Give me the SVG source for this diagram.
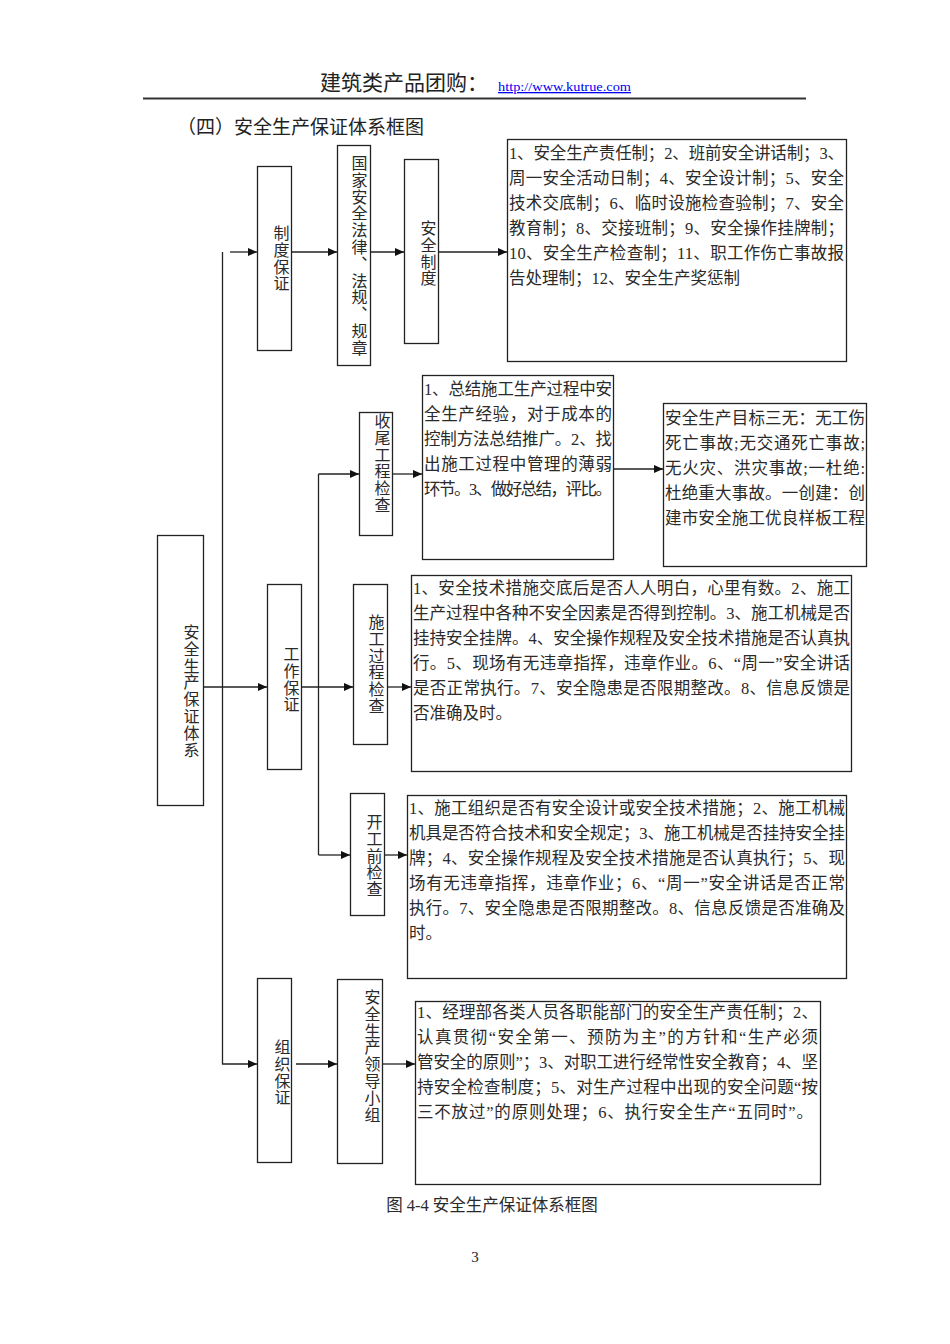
<svg xmlns="http://www.w3.org/2000/svg" width="950" height="1344" viewBox="0 0 950 1344">
<style>
.bg{fill:#fff}
.box{fill:#fff;stroke:#222;stroke-width:1.3}
.ln{fill:none;stroke:#222;stroke-width:1.3}
.t{font-family:"Liberation Serif","Noto Sans CJK SC",serif;font-size:16.5px;fill:#2a2a2a}
.v{font-family:"Liberation Serif","Noto Sans CJK SC",serif;font-size:16px;fill:#2a2a2a;writing-mode:vertical-rl;letter-spacing:0.8px}
.h{font-family:"Noto Sans CJK SC",sans-serif;fill:#222}
</style>
<defs>
<marker id="ar" markerUnits="userSpaceOnUse" markerWidth="10" markerHeight="9" refX="9" refY="4" orient="auto">
<path d="M0,0 L9,4 L0,8 z" fill="#111"/>
</marker>
</defs>
<rect class="bg" x="0" y="0" width="950" height="1344"/>

<g id="header">
<text class="h" x="320" y="90" font-size="21">建筑类产品团购：</text>
<text x="498" y="91" font-family="Liberation Serif,serif" font-size="13" fill="#0000ee" text-decoration="underline" textLength="133" lengthAdjust="spacingAndGlyphs">http://www.kutrue.com</text>
<line x1="143" y1="98.5" x2="806" y2="98.5" stroke="#333" stroke-width="1.8"/>
<text class="h" x="177" y="134" font-size="19">（四）安全生产保证体系框图</text>
</g>

<g id="connectors">
<line class="ln" x1="222.5" y1="252" x2="222.5" y2="1064.5"/>
<line class="ln" x1="230" y1="252" x2="257" y2="252" marker-end="url(#ar)"/>
<line class="ln" x1="291" y1="252" x2="337" y2="252" marker-end="url(#ar)"/>
<line class="ln" x1="371" y1="252" x2="404" y2="252" marker-end="url(#ar)"/>
<line class="ln" x1="438" y1="252" x2="507" y2="252" marker-end="url(#ar)"/>
<line class="ln" x1="203" y1="687" x2="267" y2="687" marker-end="url(#ar)"/>
<line class="ln" x1="302" y1="687" x2="353" y2="687" marker-end="url(#ar)"/>
<line class="ln" x1="318.5" y1="474" x2="318.5" y2="855"/>
<line class="ln" x1="318.5" y1="474" x2="359" y2="474" marker-end="url(#ar)"/>
<line class="ln" x1="393" y1="474" x2="422" y2="474" marker-end="url(#ar)"/>
<line class="ln" x1="614" y1="469" x2="663" y2="469" marker-end="url(#ar)"/>
<line class="ln" x1="387" y1="687" x2="411" y2="687" marker-end="url(#ar)"/>
<line class="ln" x1="318.5" y1="855" x2="350" y2="855" marker-end="url(#ar)"/>
<line class="ln" x1="385" y1="855" x2="407" y2="855" marker-end="url(#ar)"/>
<line class="ln" x1="222.5" y1="1064" x2="257" y2="1064" marker-end="url(#ar)"/>
<line class="ln" x1="296" y1="1064" x2="337" y2="1064" marker-end="url(#ar)"/>
<line class="ln" x1="383" y1="1064" x2="415" y2="1064" marker-end="url(#ar)"/>
</g>

<g id="n-root">
<rect class="box" x="157.5" y="535.5" width="46" height="270"/>
<text class="v" x="190" y="624">安全生产保证体系</text>
</g>

<g id="n-zhidu">
<rect class="box" x="257.5" y="166.5" width="34" height="184"/>
<text class="v" x="280" y="225">制度保证</text>
</g>
<g id="n-falv">
<rect class="box" x="337.5" y="145.5" width="33" height="220"/>
<text class="v" x="358" y="155">国家安全法律、法规、规章</text>
</g>
<g id="n-anquanzhidu">
<rect class="box" x="404.5" y="159.5" width="34" height="184"/>
<text class="v" x="427" y="220">安全制度</text>
</g>
<g id="n-zhidu-text">
<rect class="box" x="507.5" y="139.5" width="339" height="222"/>
<text class="t" x="509" y="159" textLength="335" lengthAdjust="spacing">1、安全生产责任制；2、班前安全讲话制；3、</text>
<text class="t" x="509" y="184" textLength="335" lengthAdjust="spacing">周一安全活动日制；4、安全设计制；5、安全</text>
<text class="t" x="509" y="209" textLength="335" lengthAdjust="spacing">技术交底制；6、临时设施检查验制；7、安全</text>
<text class="t" x="509" y="234" textLength="335" lengthAdjust="spacing">教育制；8、交接班制；9、安全操作挂牌制；</text>
<text class="t" x="509" y="259" textLength="335" lengthAdjust="spacing">10、安全生产检查制；11、职工作伤亡事故报</text>
<text class="t" x="509" y="284">告处理制；12、安全生产奖惩制</text>
</g>

<g id="n-gongzuo">
<rect class="box" x="267.5" y="584.5" width="34" height="185"/>
<text class="v" x="290" y="646">工作保证</text>
</g>

<g id="n-shouwei">
<rect class="box" x="359.5" y="412.5" width="33" height="123"/>
<text class="v" x="381" y="413">收尾工程检查</text>
</g>
<g id="n-shouwei-text">
<rect class="box" x="422.5" y="375.5" width="191" height="184"/>
<text class="t" x="424" y="395" textLength="188" lengthAdjust="spacing">1、总结施工生产过程中安</text>
<text class="t" x="424" y="420" textLength="188" lengthAdjust="spacing">全生产经验，对于成本的</text>
<text class="t" x="424" y="445" textLength="188" lengthAdjust="spacing">控制方法总结推广。2、找</text>
<text class="t" x="424" y="470" textLength="188" lengthAdjust="spacing">出施工过程中管理的薄弱</text>
<text class="t" x="424" y="495" textLength="188" lengthAdjust="spacing">环节。3、做好总结，评比。</text>
</g>
<g id="n-mubiao">
<rect class="box" x="663.5" y="403.5" width="203" height="163"/>
<text class="t" x="665" y="424" textLength="200" lengthAdjust="spacing">安全生产目标三无：无工伤</text>
<text class="t" x="665" y="449" textLength="200" lengthAdjust="spacing">死亡事故;无交通死亡事故;</text>
<text class="t" x="665" y="474" textLength="200" lengthAdjust="spacing">无火灾、洪灾事故;一杜绝:</text>
<text class="t" x="665" y="499" textLength="200" lengthAdjust="spacing">杜绝重大事故。一创建：创</text>
<text class="t" x="665" y="524" textLength="200" lengthAdjust="spacing">建市安全施工优良样板工程</text>
</g>

<g id="n-shigong">
<rect class="box" x="353.5" y="584.5" width="34" height="160"/>
<text class="v" x="375" y="614">施工过程检查</text>
</g>
<g id="n-shigong-text">
<rect class="box" x="411.5" y="575.5" width="440" height="196"/>
<text class="t" x="413" y="594" textLength="437" lengthAdjust="spacing">1、安全技术措施交底后是否人人明白，心里有数。2、施工</text>
<text class="t" x="413" y="619" textLength="437" lengthAdjust="spacing">生产过程中各种不安全因素是否得到控制。3、施工机械是否</text>
<text class="t" x="413" y="644" textLength="437" lengthAdjust="spacing">挂持安全挂牌。4、安全操作规程及安全技术措施是否认真执</text>
<text class="t" x="413" y="669" textLength="437" lengthAdjust="spacing">行。5、现场有无违章指挥，违章作业。6、“周一”安全讲话</text>
<text class="t" x="413" y="694" textLength="437" lengthAdjust="spacing">是否正常执行。7、安全隐患是否限期整改。8、信息反馈是</text>
<text class="t" x="413" y="719">否准确及时。</text>
</g>

<g id="n-kaigong">
<rect class="box" x="350.5" y="793.5" width="34" height="122"/>
<text class="v" x="373" y="814">开工前检查</text>
</g>
<g id="n-kaigong-text">
<rect class="box" x="407.5" y="795.5" width="439" height="183"/>
<text class="t" x="409" y="814" textLength="436" lengthAdjust="spacing">1、施工组织是否有安全设计或安全技术措施；2、施工机械</text>
<text class="t" x="409" y="839" textLength="436" lengthAdjust="spacing">机具是否符合技术和安全规定；3、施工机械是否挂持安全挂</text>
<text class="t" x="409" y="864" textLength="436" lengthAdjust="spacing">牌；4、安全操作规程及安全技术措施是否认真执行；5、现</text>
<text class="t" x="409" y="889" textLength="436" lengthAdjust="spacing">场有无违章指挥，违章作业；6、“周一”安全讲话是否正常</text>
<text class="t" x="409" y="914" textLength="436" lengthAdjust="spacing">执行。7、安全隐患是否限期整改。8、信息反馈是否准确及</text>
<text class="t" x="409" y="939">时。</text>
</g>

<g id="n-zuzhi">
<rect class="box" x="257.5" y="978.5" width="34" height="184"/>
<text class="v" x="281" y="1039">组织保证</text>
</g>
<g id="n-lingdao">
<rect class="box" x="337.5" y="979.5" width="45" height="184"/>
<text class="v" x="371" y="989">安全生产领导小组</text>
</g>
<g id="n-zuzhi-text">
<rect class="box" x="415.5" y="1001.5" width="405" height="183"/>
<text class="t" x="417" y="1018" textLength="401" lengthAdjust="spacing">1、经理部各类人员各职能部门的安全生产责任制；2、</text>
<text class="t" x="417" y="1043" textLength="401" lengthAdjust="spacing">认真贯彻“安全第一、预防为主”的方针和“生产必须</text>
<text class="t" x="417" y="1068" textLength="401" lengthAdjust="spacing">管安全的原则”；3、对职工进行经常性安全教育；4、坚</text>
<text class="t" x="417" y="1093" textLength="401" lengthAdjust="spacing">持安全检查制度；5、对生产过程中出现的安全问题“按</text>
<text class="t" x="417" y="1118" textLength="396" lengthAdjust="spacing">三不放过”的原则处理；6、执行安全生产“五同时”。</text>
</g>

<g id="caption">
<text class="t" x="492" y="1211" text-anchor="middle" font-size="16">图 4-4 安全生产保证体系框图</text>
<text x="475" y="1262" font-family="Liberation Serif,serif" font-size="15" fill="#222" text-anchor="middle">3</text>
</g>
</svg>
